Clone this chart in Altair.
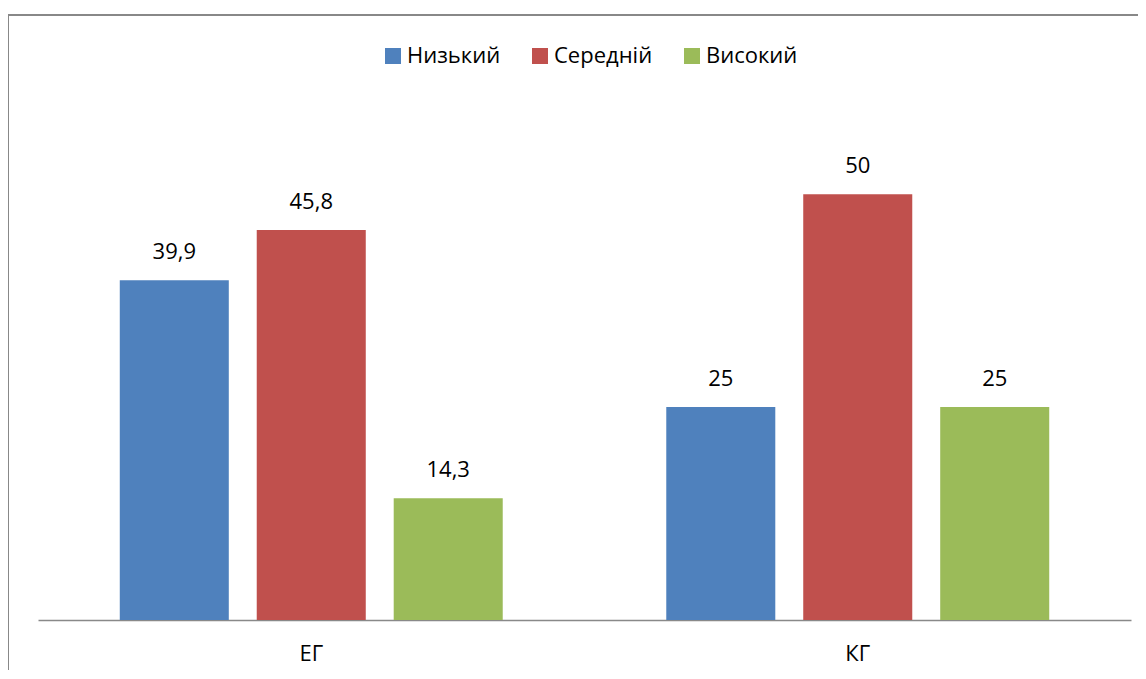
import altair as alt
import pandas as pd

groups = ["ЕГ", "КГ"]
levels = ["Низький", "Середній", "Високий"]
values_eg = [39.9, 45.8, 14.3]
values_kg = [25, 50, 25]
colors = ["#4F81BD", "#C0504D", "#9BBB59"]

rows = []
for g, vals in zip(groups, [values_eg, values_kg]):
    for lvl, v in zip(levels, vals):
        rows.append({"group": g, "level": lvl, "value": v,
                     "label": (f"{v:g}").replace(".", ",")})
df = pd.DataFrame(rows)

FONT = "Open Sans"
FS = 22
W, H = 1093, 511

x = alt.X("group:N", sort=groups, title=None,
          scale=alt.Scale(paddingInner=0, paddingOuter=0),
          axis=alt.Axis(labelAngle=0, ticks=False, domainColor="#898989",
                        domainWidth=1.5, labelFontSize=FS, labelFont=FONT,
                        labelColor="#000000", labelPadding=23, grid=False))
xo = alt.XOffset("level:N", sort=levels,
                 scale=alt.Scale(paddingInner=0.204, paddingOuter=0.597))
y = alt.Y("value:Q", scale=alt.Scale(domain=[0, 60], nice=False), axis=None)

bars = alt.Chart(df).mark_bar().encode(
    x=x, xOffset=xo, y=y,
    color=alt.Color("level:N", sort=levels,
                    scale=alt.Scale(domain=levels, range=colors),
                    legend=alt.Legend(title=None, orient="none", direction="horizontal",
                                      legendX=344, legendY=-64, padding=0,
                                      symbolType="square", symbolSize=256,
                                      symbolStrokeWidth=0, symbolOpacity=1,
                                      labelFont=FONT, labelFontSize=FS,
                                      labelColor="#000000", columnPadding=28,
                                      labelOffset=3)),
)

text = alt.Chart(df).mark_text(baseline="bottom", dy=-16, font=FONT,
                               fontSize=FS, color="#000000").encode(
    x=x, xOffset=xo, y=y, text="label:N")

frame_top = alt.Chart(df).mark_rule(color="#898989", strokeWidth=1.5).encode(
    x=alt.value(-30), x2=alt.value(1200), y=alt.value(-94))
frame_left = alt.Chart(df).mark_rule(color="#898989", strokeWidth=1.5).encode(
    x=alt.value(-30), y=alt.value(-94), y2=alt.value(650))

chart = alt.layer(frame_top, frame_left, bars, text).properties(
    width=W, height=H,
    background="white",
    autosize=alt.AutoSizeParams(type="none"),
    padding={"left": 30, "top": 101, "right": 7, "bottom": 50},
).configure_view(strokeWidth=0, stroke="transparent")

chart.save("out.html", embed_options={"renderer": "svg", "actions": False})
